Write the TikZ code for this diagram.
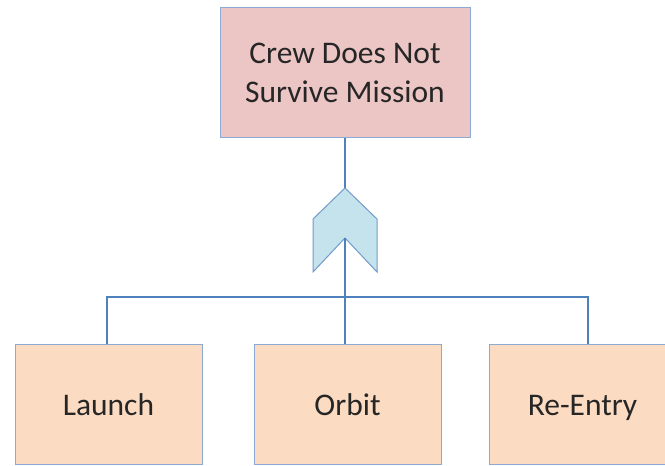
\documentclass[tikz,border=0pt]{standalone}
\usepackage{fontspec}
\setmainfont{Carlito}
\usetikzlibrary{calc}
\definecolor{lineblue}{RGB}{79,129,189}
\definecolor{edgeblue}{RGB}{140,170,210}
\definecolor{toppink}{RGB}{236,197,197}
\definecolor{peach}{RGB}{251,219,193}
\definecolor{gateblue}{RGB}{197,227,236}
\begin{document}
\begin{tikzpicture}[x=1pt,y=1pt,
  boxstyle/.style={draw=edgeblue, line width=1pt, inner sep=0pt, align=center,
    text=black!85, font=\fontsize{31.5}{39}\selectfont},
  childbox/.style={boxstyle, fill=peach, minimum width=187pt, minimum height=120pt,
    text height=25pt, text depth=3pt},
  conn/.style={draw=lineblue, line width=1.8pt},
  gatestyle/.style={draw=lineblue!80, fill=gateblue, line width=1pt, line join=miter}]
\useasboundingbox (0,0) rectangle (665,466);
\clip (0,0) rectangle (665,466);
% top event
\node[boxstyle, fill=toppink, minimum width=250pt, minimum height=130pt] (top) at (345,393) {Crew Does Not\\Survive Mission};
% children
\node[childbox] (launch) at (108.5,61) {Launch};
\node[childbox] (orbit) at (347.5,61) {Orbit};
\node[childbox] (reentry) at (582.5,61) {Re-Entry};
% gate
\coordinate (gtop) at (345,278);
\coordinate (gnotch) at (345,228);
\coordinate (bar) at (345,169);
\draw[conn] (top.south -| gtop) -- (gtop);
\draw[conn] (gnotch) -- (orbit.north -| gnotch);
\draw[conn] ($(launch.north)+(-1.5,0)$) |- (bar) -| ($(reentry.north)+(5.5,0)$);
\draw[gatestyle] (gtop) -- (377,247) -- (377,194) -- (gnotch) -- (313,194) -- (313,247) -- cycle;
\draw[conn] (gnotch) -- (345,194);
\end{tikzpicture}
\end{document}
